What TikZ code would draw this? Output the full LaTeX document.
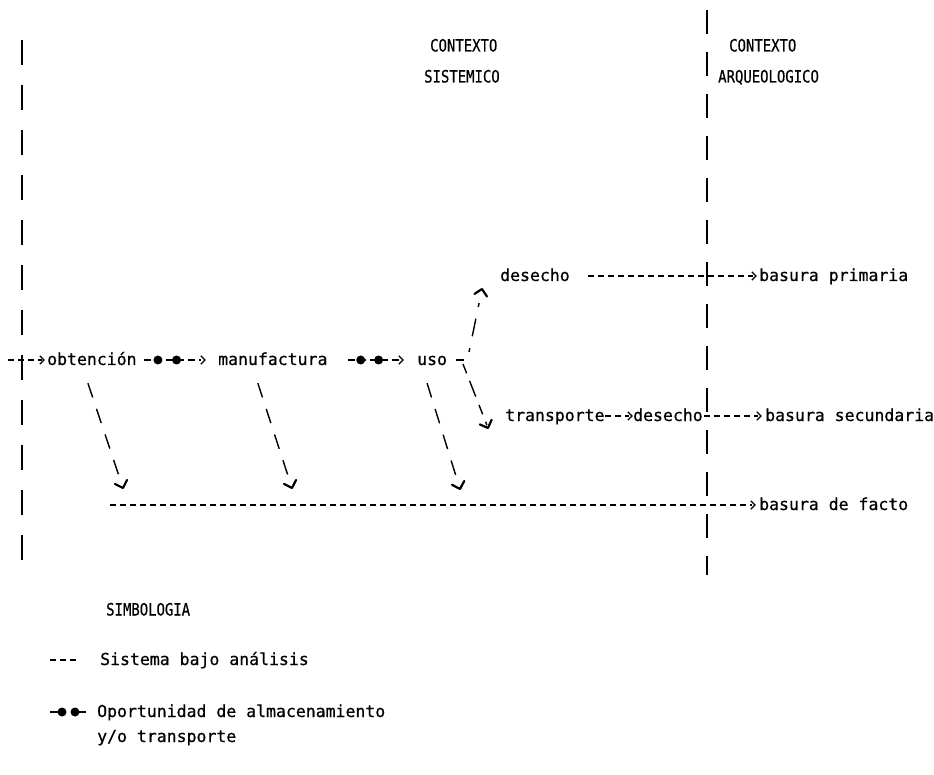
\documentclass[tikz,border=0pt]{standalone}
\usepackage{fontspec}
\setmainfont[FakeBold=0.6]{DejaVu Sans Mono}
\newfontfamily\hdrfamily[FakeStretch=0.82,FakeBold=0.6]{DejaVu Sans Mono}
\usetikzlibrary{calc}
% chevron tip: #1 tip point, #2 point behind it, #3 arm length, #4 half angle, #5 style
\newcommand\mychev[5]{\draw[#5] ($(#1)!#3!#4:(#2)$) -- (#1) -- ($(#1)!#3!-#4:(#2)$);}
\begin{document}
\begin{tikzpicture}[x=1pt,y=-1pt,
  txt/.style={inner sep=0pt, anchor=west, text height=10pt, text depth=0pt, font=\fontsize{16.5}{20}\selectfont},
  hdr/.style={inner sep=0pt, anchor=west, text height=11pt, text depth=0pt, font=\hdrfamily\fontsize{17}{20}\selectfont},
  sys/.style={line width=1.3pt, dash pattern=on 6pt off 4pt},
  stor/.style={line width=1.3pt, dash pattern=on 7pt off 4pt},
  gtstyle/.style={solid, line width=1.1pt, line join=miter},
  diag/.style={line width=1.4pt, dash pattern=on 15pt off 12pt},
  vstyle/.style={solid, line width=2.2pt, line join=round, line cap=round},
  boundary/.style={line width=1.8pt, dash pattern=on 25pt off 20pt},
  dot/.style={circle, fill=black, inner sep=0pt, minimum size=9pt},
]
\useasboundingbox (0,0) rectangle (934,775);

% boundaries
\draw[boundary] (22,40) -- (22,572);
\draw[boundary, dash pattern=on 24pt off 18pt] (707,10) -- (707,575);

% headers
\node[hdr] (hs1) at (430,46) {CONTEXTO};
\node[hdr] (hs2) at (424,77) {SISTEMICO};
\node[hdr] (ha1) at (729,46) {CONTEXTO};
\node[hdr] (ha2) at (718,77) {ARQUEOLOGICO};

% main nodes
\node[txt] (obt) at (47,360) {obtención};
\node[txt] (manu) at (218,360) {manufactura};
\node[txt] (uso) at (417,360) {uso};
\node[txt] (des1) at (500,276) {desecho};
\node[txt] (bp) at (759,276) {basura primaria};
\node[txt] (transp) at (505,416) {transporte};
\node[txt] (des2) at (633,416) {desecho};
\node[txt] (bs) at (765,416) {basura secundaria};
\node[txt] (bf) at (759,505) {basura de facto};

\coordinate (lstart) at (8,360);
\coordinate (br) at (464,360);
\coordinate (brUp) at (469,352);
\coordinate (brDn) at (463,364);
\coordinate (fstart) at (110,505);
\coordinate (upTip) at (482,289);
\coordinate (dnTip) at (488,428);
\coordinate (t1) at (123,488);
\coordinate (t2) at (292,488);
\coordinate (t3) at (460,489);
\coordinate (s1) at ($(obt.south)+(-4,18)$);
\coordinate (s2) at ($(manu.south)+(-15,18)$);
\coordinate (s3) at ($(uso.south)+(-5,18)$);

% horizontal flows
\draw[sys, shorten >=5pt] (lstart) -- (obt.west);
\mychev{$(obt.west)+(-3,0)$}{lstart}{6pt}{45}{gtstyle}

\draw[stor, shorten <=7pt, shorten >=17pt] (obt.east) -- (manu.west)
  node[dot, pos=0.26] {} node[dot, pos=0.49] {};
\mychev{$(manu.west)+(-13,0)$}{obt.east}{6pt}{45}{gtstyle}

\draw[stor, shorten <=20pt, shorten >=18pt] (manu.east) -- (uso.west)
  node[dot, pos=0.37] {} node[dot, pos=0.57] {};
\mychev{$(uso.west)+(-14,0)$}{manu.east}{6pt}{45}{gtstyle}

\draw[line width=1.3pt, shorten <=9pt] (uso.east) -- (br);

\draw[sys, shorten <=18pt, shorten >=6pt] (des1.east) -- (bp.west);
\mychev{$(bp.west)+(-3,0)$}{des1.east}{6pt}{45}{gtstyle}

\draw[sys, shorten >=4pt] (transp.east) -- (des2.west);
\mychev{$(des2.west)+(-1,0)$}{transp.east}{6pt}{45}{gtstyle}

\draw[sys, shorten <=1pt, shorten >=7pt] (des2.east) -- (bs.west);
\mychev{$(bs.west)+(-4,0)$}{des2.east}{6pt}{45}{gtstyle}

\draw[sys, shorten >=7pt] (fstart) -- (bf.west);
\mychev{$(bf.west)+(-4,0)$}{fstart}{6pt}{45}{gtstyle}

% branches from uso
\draw[diag, dash pattern=on 4pt off 12pt on 18pt off 12pt, shorten >=3pt] (brUp) -- (upTip);
\mychev{upTip}{brUp}{9pt}{45}{vstyle}
\draw[diag, dash pattern=on 10pt off 8pt on 17pt off 9pt, shorten >=3pt] (brDn) -- (dnTip);
\mychev{dnTip}{brDn}{9pt}{45}{vstyle}

% diagonals to basura de facto
\draw[diag, shorten >=3pt] (s1) -- (t1);
\mychev{t1}{s1}{9pt}{45}{vstyle}
\draw[diag, shorten >=3pt] (s2) -- (t2);
\mychev{t2}{s2}{9pt}{45}{vstyle}
\draw[diag, shorten >=3pt] (s3) -- (t3);
\mychev{t3}{s3}{9pt}{45}{vstyle}

% legend
\node[hdr] (simb) at (106,610) {SIMBOLOGIA};
\coordinate (l1a) at (50,660);
\node[txt] (sist) at (100,660) {Sistema bajo análisis};
\draw[line width=1.3pt, dash pattern=on 6pt off 4pt] (l1a) -- ++(26,0);
\node[txt] (oport) at (97,712) {Oportunidad de almacenamiento};
\node[txt] (yo) at (97,737) {y/o transporte};
\coordinate (l2a) at (50,712);
\coordinate (l2b) at (86,712);
\draw[line width=1.3pt] (l2a) -- ++(12,0);
\draw[line width=1.3pt] (l2b) -- ++(-11,0);
\node[dot] (d1) at (62,712) {};
\node[dot] (d2) at (75,712) {};
\end{tikzpicture}
\end{document}
